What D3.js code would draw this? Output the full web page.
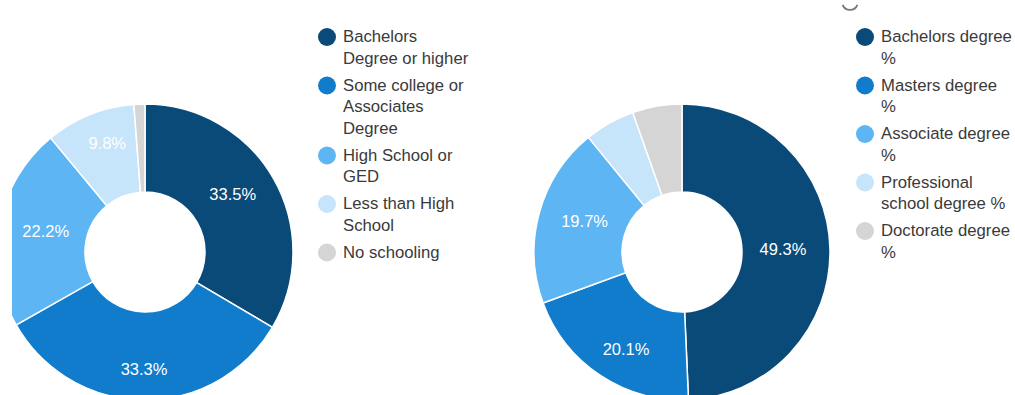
<!DOCTYPE html>
<html>
<head>
<meta charset="utf-8">
<script src="https://cdn.jsdelivr.net/npm/d3@7"></script>
<style>
  body { margin: 0; background: #fff; }
  svg { display: block; font-family: "Liberation Sans", Arial, sans-serif; }
</style>
</head>
<body>
<div id="chart"></div>
<script>
var width = 1015,
    height = 395;

// left chart: education attainment
var leftLabels = ["Bachelors\nDegree or higher", "Some college or\nAssociates\nDegree", "High School or\nGED", "Less than High\nSchool", "No schooling"];
var leftValues = [33.5, 33.3, 22.2, 9.8, 1.2];

// right chart: degree types
var rightLabels = ["Bachelors degree\n%", "Masters degree\n%", "Associate degree\n%", "Professional\nschool degree %", "Doctorate degree\n%"];
var rightValues = [49.3, 20.1, 19.7, 5.5, 5.4];

var colors = ["#0a4a78", "#117ccb", "#5db5f3", "#c6e4fa", "#d5d5d5"];

var svg = d3.select("#chart").append("svg")
    .attr("width", width)
    .attr("height", height);

svg.append("defs").append("clipPath")
    .attr("id", "leftclip")
    .append("rect")
    .attr("x", 12).attr("y", 0)
    .attr("width", 500).attr("height", height);

var pie = d3.pie().sort(null).value(function(d) { return d; });
var arc = d3.arc().innerRadius(60).outerRadius(148);
var color = d3.scaleOrdinal().domain(d3.range(5)).range(colors);

// labels sit a bit further out top/bottom than left/right
function labelPos(d) {
    var a = (d.startAngle + d.endAngle) / 2;
    return [Math.sin(a) * 101, -Math.cos(a) * 117];
}

function donut(values, cx, cy, clip) {
    var g = svg.append("g");
    if (clip) g.attr("clip-path", "url(#" + clip + ")");
    var inner = g.append("g").attr("transform", "translate(" + cx + "," + cy + ")");

    var arcs = pie(values);

    inner.selectAll(".slice")
        .data(arcs)
        .enter().append("path")
        .attr("class", "slice")
        .attr("d", arc)
        .attr("fill", function(d, i) { return color(i); })
        .attr("stroke", "#fff")
        .attr("stroke-width", 1.5);

    // only label slices big enough
    inner.selectAll(".plabel")
        .data(arcs.filter(function(d) { return d.data >= 7; }))
        .enter().append("text")
        .attr("class", "plabel")
        .attr("transform", function(d) { return "translate(" + labelPos(d) + ")"; })
        .attr("text-anchor", "middle")
        .attr("dy", "0.35em")
        .attr("fill", "#fff")
        .style("font-size", "16.5px")
        .text(function(d) { return d.data.toFixed(1) + "%"; });
}

function legend(labels, x, y) {
    var lineH = 21.5, gap = 5.5;
    var yy = y;
    labels.forEach(function(lab, i) {
        var lines = lab.split("\n");
        svg.append("circle")
            .attr("cx", x)
            .attr("cy", yy - 5)
            .attr("r", 9)
            .attr("fill", color(i));
        var t = svg.append("text")
            .attr("x", x + 16)
            .attr("y", yy)
            .attr("fill", "#3a3a3a")
            .style("font-size", "16.7px");
        lines.forEach(function(l, j) {
            t.append("tspan")
                .attr("x", x + 16)
                .attr("y", yy + j * lineH)
                .text(l);
        });
        yy += lines.length * lineH + gap;
    });
}

donut(leftValues, 145, 252, "leftclip");
donut(rightValues, 682, 252, null);

legend(leftLabels, 327, 42);
legend(rightLabels, 865, 42);

// bit of a cut-off control at the top
svg.append("path")
    .attr("d", d3.arc().innerRadius(7).outerRadius(8.8).startAngle(Math.PI * 0.62).endAngle(Math.PI * 1.38)())
    .attr("transform", "translate(850,2)")
    .attr("fill", "#777");
</script>
</body>
</html>
